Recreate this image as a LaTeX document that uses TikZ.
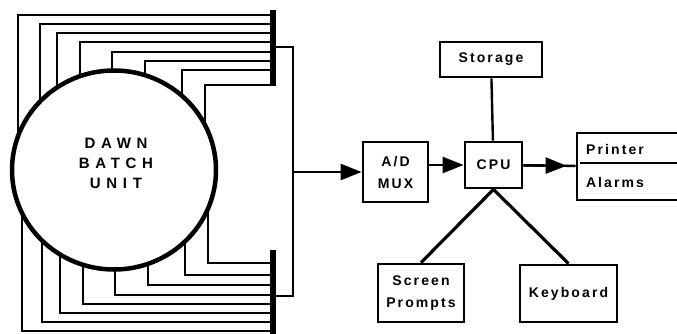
\documentclass[tikz,border=0pt]{standalone}
\usepackage{fontspec}
\setmainfont{Liberation Sans}
\newfontfamily\lbl[LetterSpace=15]{Liberation Sans}
\newfontfamily\wide[LetterSpace=38]{Liberation Sans}
\usetikzlibrary{arrows.meta,shapes.geometric}

\begin{document}
\begin{tikzpicture}[x=1pt,y=-1pt,
    box/.style={draw,line width=2.8pt,inner sep=0pt,align=center,font=\lbl\bfseries\fontsize{14}{22}\selectfont},
    wire/.style={line width=2.4pt},
    arr/.style={line width=2.6pt,-{Triangle[length=21pt,width=16pt]}}]
    \useasboundingbox (0,0) rectangle (677,333);
    % wires from the unit to the two terminal bars
    \foreach \x/\y in {18/15,40/24,57/33,80/42,112/52,145/61,182/70,205/85}
        \draw[wire] (273,\y) -| (\x,170);
    \foreach \x/\y in {22/331,42/322,60/313,83/304,115/295,148/285,185/275,208/263}
        \draw[wire] (273,\y) -| (\x,170);
    \node[ellipse,draw,line width=4.5pt,fill=white,minimum width=204pt,minimum height=199pt] (dawn) at (114,170) {};
    \node[align=center,font=\wide\bfseries\fontsize{15}{20}\selectfont] (dawntxt) at (116,163) {DAWN\\BATCH\\UNIT};
    \draw[line width=6pt] (273,10) -- (273,86);
    \draw[line width=6pt] (273,250) -- (273,336);
    \coordinate (tb) at (273,47);
    \coordinate (bb) at (273,296);
    \coordinate (j) at (293,172);
    \draw[wire] (tb) -| (j) |- (bb);

    \node[box,minimum width=65pt,minimum height=60pt] (ad) at (395.5,172) {A/D\\MUX};
    \node[box,minimum width=57pt,minimum height=46pt] (cpu) at (493.5,165) {CPU};
    \node[box,minimum width=102pt,minimum height=35pt] (sto) at (491,59.5) {Storage};
    \node[box,minimum width=108pt,minimum height=67pt] (pa) at (631,166.5) {};
    \node[font=\lbl\bfseries\fontsize{14}{22}\selectfont] (prn) at (615,149) {Printer};
    \node[font=\lbl\bfseries\fontsize{14}{22}\selectfont] (alm) at (615,182) {Alarms};
    \node[box,minimum width=86pt,minimum height=58pt] (scr) at (421,293) {Screen\\Prompts};
    \node[box,minimum width=97pt,minimum height=57pt] (kbd) at (568.5,293.5) {Keyboard};

    \draw[arr] (j) -- (ad);
    \draw[arr] (ad.east |- cpu.west) -- (cpu.west);
    \draw[wire] (cpu) -- (pa);
    \draw[arr,shorten >=9pt] (cpu) -- (pa); % head stops short of the box
    \draw[wire] ([xshift=4pt,yshift=3.5pt]pa.west) -- ([yshift=3.5pt]pa.east);
    \draw[wire] (sto) -- (cpu);
    \draw[wire,line width=3.2pt] (cpu.south) -- (scr.north);
    \draw[wire,line width=3.2pt] (cpu.south) -- (kbd.north);
\end{tikzpicture}
\end{document}
